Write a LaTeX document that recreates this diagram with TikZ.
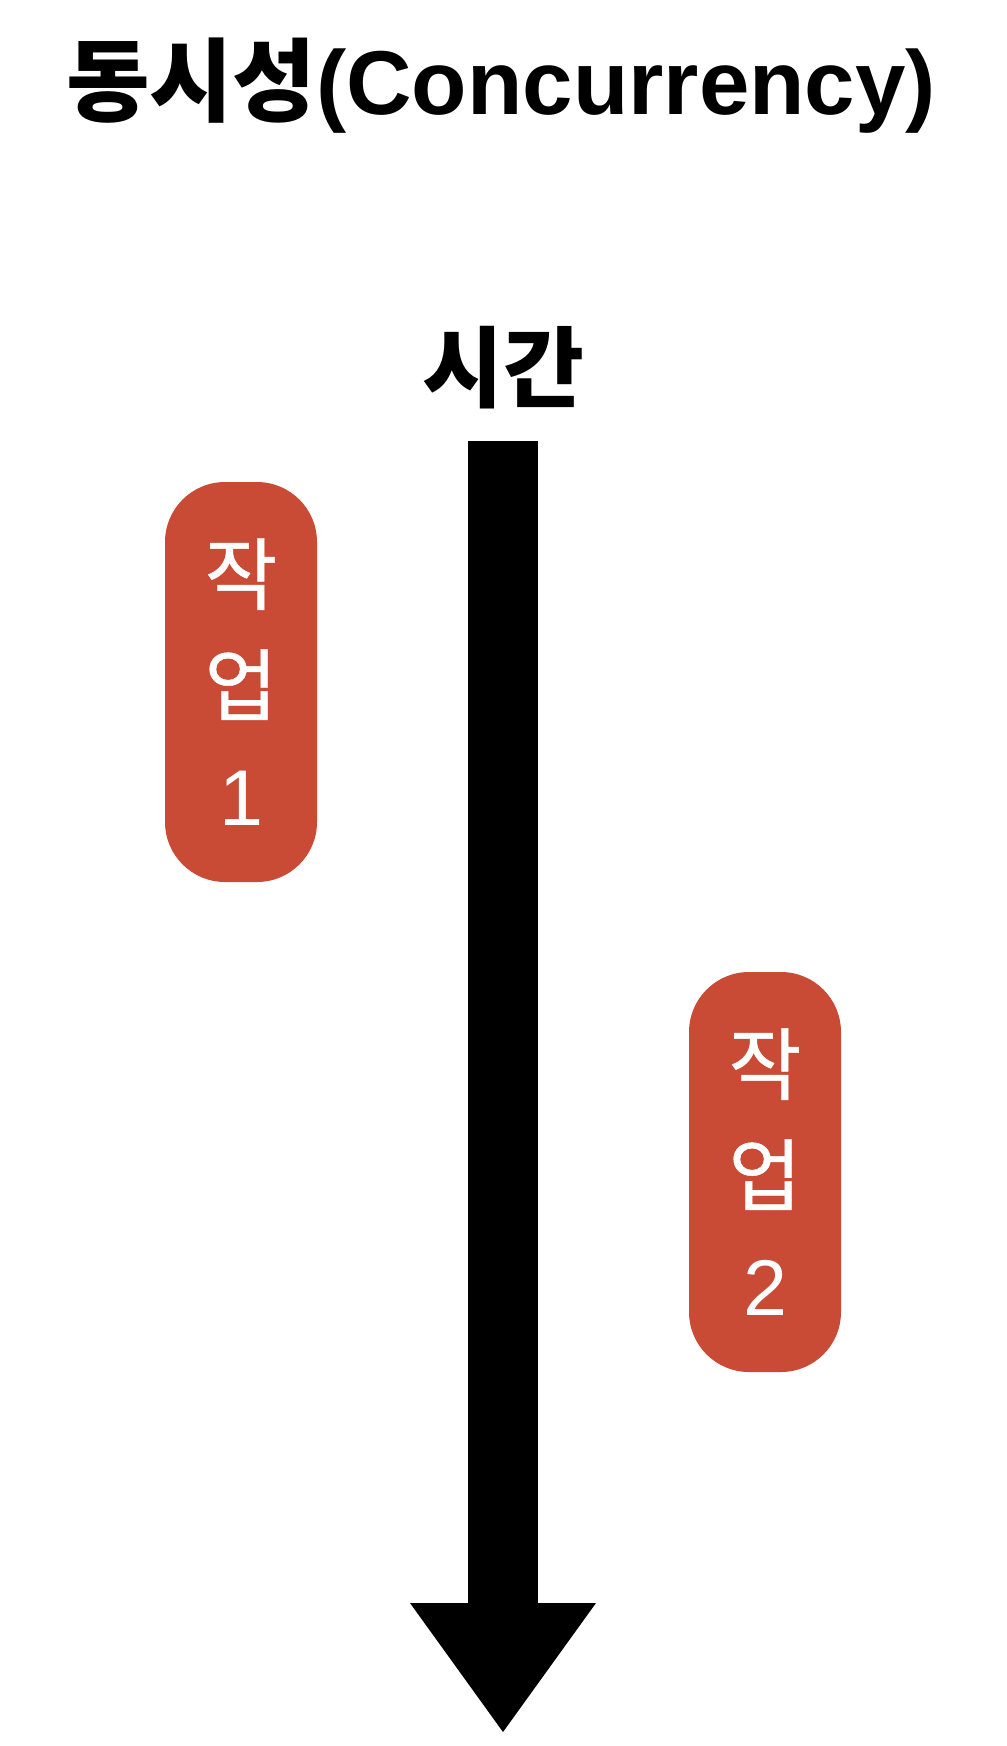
\documentclass[tikz,border=0pt]{standalone}
\usepackage{fontspec}
\setmainfont{Liberation Sans}
\newfontfamily\kr{Noto Sans CJK KR}
\newfontfamily\krtask[FakeBold=0.6]{Noto Sans CJK KR}
\usetikzlibrary{arrows.meta}
\definecolor{taskred}{RGB}{202,75,53}

\begin{document}
\begin{tikzpicture}[
    taskbox/.style={rectangle, rounded corners=0.6cm, fill=taskred, text=white,
        minimum width=1.52cm, minimum height=4cm, inner sep=0pt, align=center,
        font=\fontsize{22.5}{31.6}\selectfont}]
    \useasboundingbox (0,0) rectangle (10.06,-17.46);
    \coordinate (timeTop) at (5.03,-4.41);
    \coordinate (timeEnd) at (5.03,-17.32);

    \node (title) [anchor=base, inner sep=0pt, font=\fontsize{25.8}{30}\selectfont\bfseries]
        at (5.01,-1.14) {{\kr 동시성}(Concurrency)};
    \node (timeLabel) [inner sep=0pt, font=\kr\fontsize{25}{30}\selectfont\bfseries]
        at (5.03,-3.68) {시간};

    \draw [line width=0.7cm, -{Triangle[width=1.86cm, length=1.29cm, line width=0pt]}] (timeTop)
        -- (timeEnd);

    \node (task1) [taskbox] at (2.41,-6.82) {{\krtask 작}\\{\krtask 업}\\1};
    \node (task2) [taskbox] at (7.65,-11.72) {{\krtask 작}\\{\krtask 업}\\2};
\end{tikzpicture}
\end{document}
